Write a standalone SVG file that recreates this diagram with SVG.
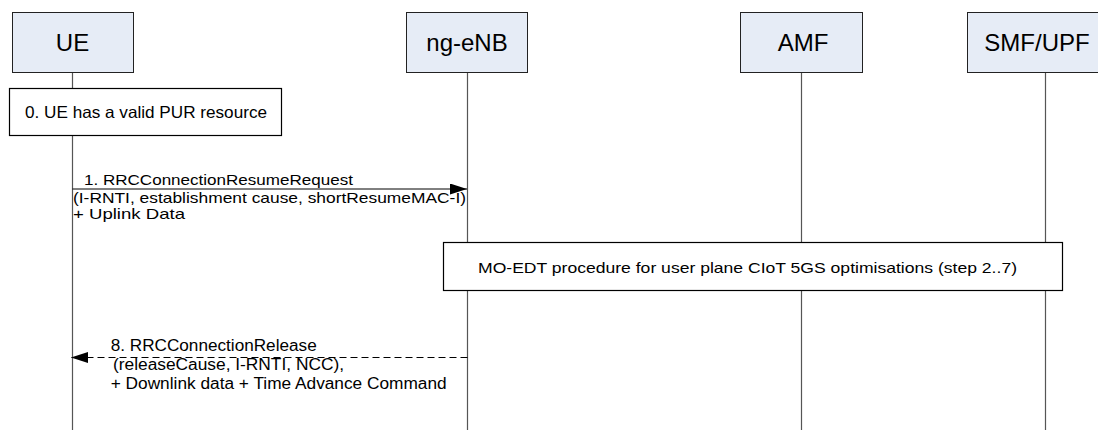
<svg xmlns="http://www.w3.org/2000/svg" width="1098" height="430" viewBox="0 0 1098 430">
<style>
.hdr{fill:#E6ECF6;stroke:#222;stroke-width:1}
.hdrt{font-family:"Liberation Sans",Arial,sans-serif;font-size:24px;fill:#000;text-anchor:middle}
.life{stroke:#555;stroke-width:1.2}
.box{fill:#fff;stroke:#000;stroke-width:1.2}
.lbl{font-family:"Liberation Sans",Arial,sans-serif;fill:#000}
.msg{stroke:#000;stroke-width:1;fill:none}
</style>
<defs>
<marker id="ah" markerWidth="17" markerHeight="11" refX="17" refY="5.5" orient="auto" markerUnits="userSpaceOnUse">
<path d="M0,0 L17,5.5 L0,11 Z" fill="#000"/>
</marker>
</defs>
<rect width="1098" height="430" fill="#fff"/>
<g id="lifelines">
<line class="life" x1="72.5" y1="73" x2="72.5" y2="430"/>
<line class="life" x1="467.5" y1="73" x2="467.5" y2="430"/>
<line class="life" x1="801.5" y1="73" x2="801.5" y2="430"/>
<line class="life" x1="1045.5" y1="73" x2="1045.5" y2="430"/>
</g>
<g id="UE">
<rect class="hdr" x="12.5" y="12.5" width="121" height="60"/>
<text class="hdrt" x="72.5" y="51">UE</text>
</g>
<g id="ng-eNB">
<rect class="hdr" x="406.5" y="12.5" width="121" height="60"/>
<text class="hdrt" x="467" y="51">ng-eNB</text>
</g>
<g id="AMF">
<rect class="hdr" x="740.5" y="12.5" width="122" height="60"/>
<text class="hdrt" x="803" y="51">AMF</text>
</g>
<g id="SMF-UPF">
<rect class="hdr" x="967.5" y="12.5" width="140" height="60"/>
<text class="hdrt" x="1037" y="51">SMF/UPF</text>
</g>
<g id="step0">
<rect class="box" x="9.5" y="88.5" width="272" height="47"/>
<text class="lbl" x="25" y="118" font-size="16.5" textLength="242" lengthAdjust="spacingAndGlyphs">0. UE has a valid PUR resource</text>
</g>
<g id="step2-7">
<rect class="box" x="443.5" y="242.5" width="619" height="48"/>
<text class="lbl" x="478" y="273" font-size="15" textLength="539" lengthAdjust="spacingAndGlyphs">MO-EDT procedure for user plane CIoT 5GS optimisations (step 2..7)</text>
</g>
<g id="connectors">
<line class="msg" x1="72.5" y1="189" x2="467" y2="189" marker-end="url(#ah)"/>
<line class="msg" x1="467.5" y1="357.5" x2="71" y2="357.5" stroke-dasharray="7,4" marker-end="url(#ah)"/>
</g>
<g id="labels">
<text class="lbl" x="84" y="185" font-size="15" textLength="269" lengthAdjust="spacingAndGlyphs">1. RRCConnectionResumeRequest</text>
<text class="lbl" x="73" y="203" font-size="15" textLength="393" lengthAdjust="spacingAndGlyphs">(I-RNTI, establishment cause, shortResumeMAC-I)</text>
<text class="lbl" x="73" y="219" font-size="15" textLength="112" lengthAdjust="spacingAndGlyphs">+ Uplink Data</text>
<text class="lbl" x="110.7" y="350.5" font-size="16" textLength="206" lengthAdjust="spacingAndGlyphs">8. RRCConnectionRelease</text>
<text class="lbl" x="113" y="370" font-size="16" textLength="231" lengthAdjust="spacingAndGlyphs">(releaseCause, I-RNTI, NCC),</text>
<text class="lbl" x="110.7" y="389" font-size="16" textLength="336" lengthAdjust="spacingAndGlyphs">+ Downlink data + Time Advance Command</text>
</g>
</svg>
